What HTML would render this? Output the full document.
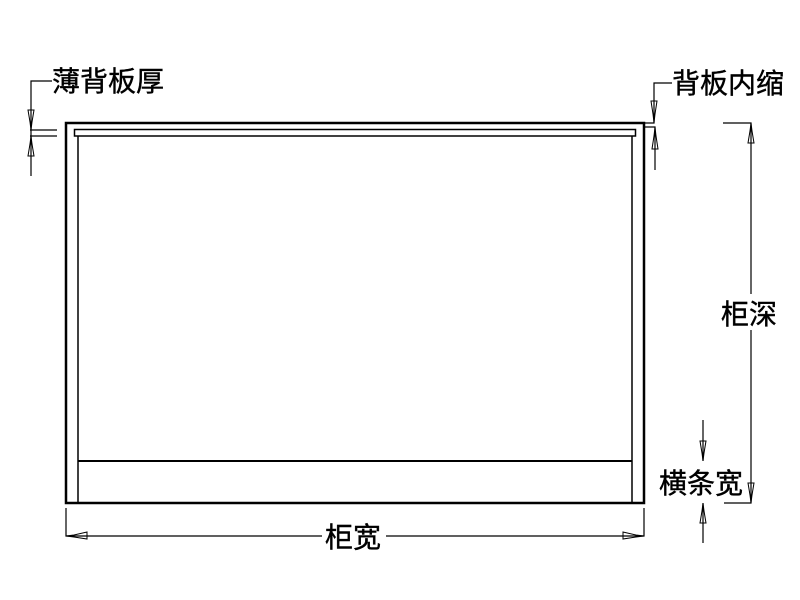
<!DOCTYPE html>
<html><head><meta charset="utf-8"><style>
body{margin:0;background:#fff;}
svg{display:block}
text{font-family:"Liberation Sans","Noto Sans CJK SC",sans-serif;fill:#000;stroke:#000;stroke-width:0.4}
</style></head><body>
<svg width="800" height="600" viewBox="0 0 800 600" xmlns="http://www.w3.org/2000/svg">
<g fill="none" stroke="#000">
<path d="M66,503 V123 H644 V503 Z" stroke-width="2.5"/>
<line x1="78" y1="136" x2="78" y2="503" stroke-width="1.5"/>
<line x1="632" y1="136" x2="632" y2="503" stroke-width="1.5"/>
<rect x="74.5" y="129.5" width="561" height="6.5" stroke-width="1.5"/>
<line x1="78" y1="461" x2="632" y2="461" stroke-width="2"/>
<path d="M52,81 H31 V176" stroke-width="1.2"/>
<line x1="30" y1="130" x2="57" y2="130" stroke-width="1.2"/>
<line x1="30" y1="136" x2="57" y2="136" stroke-width="1.2"/>
<path d="M28,110 L34,110 L32,122 L31,130 L30,122 Z" stroke-width="1"/>
<path d="M28,156 L34,156 L32,144 L31,136 L30,144 Z" stroke-width="1"/>
<path d="M672,83 H654 V123 H645" stroke-width="1.2"/>
<path d="M645,127 H655 V170" stroke-width="1.2"/>
<path d="M651,101 L657,101 L655,114 L654,123 L653,114 Z" stroke-width="1"/>
<path d="M652,149 L658,149 L656,136 L655,127 L654,136 Z" stroke-width="1"/>
<path d="M723,123 H751 V503 H724" stroke-width="1.2"/>
<path d="M748,143 L754,143 L752,131 L751,123 L750,131 Z" stroke-width="1"/>
<path d="M748,483 L754,483 L752,495 L751,503 L750,495 Z" stroke-width="1"/>
<line x1="703" y1="420" x2="703" y2="461" stroke-width="1.2"/>
<line x1="703" y1="503" x2="703" y2="543" stroke-width="1.2"/>
<path d="M700,441 L706,441 L704,453 L703,461 L702,453 Z" stroke-width="1"/>
<path d="M700,523 L706,523 L704,511 L703,503 L702,511 Z" stroke-width="1"/>
<path d="M66,508 V536 H644 V508" stroke-width="1.2"/>
<path d="M87,532 L87,539 L74,537 L66,536 L74,535 Z" stroke-width="1"/>
<path d="M623,532 L623,539 L636,537 L644,536 L636,535 Z" stroke-width="1"/>
</g>
<rect x="322" y="520" width="64" height="32" fill="#fff"/>
<rect x="718" y="294" width="66" height="36" fill="#fff"/>
<text x="52" y="91" font-size="28">薄背板厚</text>
<text x="672" y="93" font-size="28">背板内缩</text>
<text x="721" y="324" font-size="28">柜深</text>
<text x="659" y="493" font-size="28">横条宽</text>
<text x="325" y="547" font-size="28">柜宽</text>
</svg>
</body></html>
